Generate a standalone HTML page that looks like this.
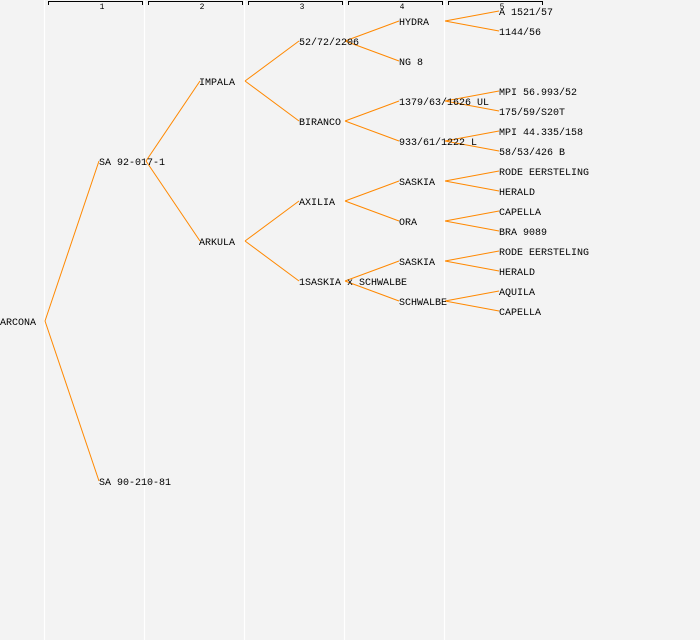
<!DOCTYPE html>
<html><head><meta charset="utf-8"><style>
html,body{margin:0;padding:0;background:#f3f3f3;}
svg{display:block;}
text{font-family:"Liberation Mono","DejaVu Sans Mono",monospace;font-size:10px;fill:#000;}
.h{font-size:8px;}
line.c{stroke:#ff8800;stroke-width:1;}
</style></head><body>
<svg width="700" height="640" xmlns="http://www.w3.org/2000/svg">
<rect width="700" height="640" fill="#f3f3f3"/>
<g stroke="#ffffff" stroke-width="1.2">
<line x1="44.5" y1="0" x2="44.5" y2="640"/><line x1="144.5" y1="0" x2="144.5" y2="640"/>
<line x1="244.5" y1="0" x2="244.5" y2="640"/><line x1="344.5" y1="0" x2="344.5" y2="640"/>
<line x1="444.5" y1="0" x2="444.5" y2="640"/>
</g>
<g stroke="#000" stroke-width="1" fill="none">
<path d="M48.5,5 V1.5 H142.5 V5"/><path d="M148.5,5 V1.5 H242.5 V5"/>
<path d="M248.5,5 V1.5 H342.5 V5"/><path d="M348.5,5 V1.5 H442.5 V5"/>
<path d="M448.5,5 V1.5 H542.5 V5"/>
</g>
<g class="h">
<text class="h" x="102" y="9" text-anchor="middle">1</text>
<text class="h" x="202" y="9" text-anchor="middle">2</text>
<text class="h" x="302" y="9" text-anchor="middle">3</text>
<text class="h" x="402" y="9" text-anchor="middle">4</text>
<text class="h" x="502" y="9" text-anchor="middle">5</text>
</g>
<g>
<line class="c" x1="45" y1="321" x2="99" y2="161"/><line class="c" x1="45" y1="321" x2="99" y2="481"/>
<line class="c" x1="146" y1="161" x2="200" y2="81"/><line class="c" x1="146" y1="161" x2="200" y2="241"/>
<line class="c" x1="245" y1="81" x2="299" y2="41"/><line class="c" x1="245" y1="81" x2="299" y2="121"/>
<line class="c" x1="245" y1="241" x2="299" y2="201"/><line class="c" x1="245" y1="241" x2="299" y2="281"/>
<line class="c" x1="345" y1="41" x2="399" y2="21"/><line class="c" x1="345" y1="41" x2="399" y2="61"/>
<line class="c" x1="345" y1="121" x2="399" y2="101"/><line class="c" x1="345" y1="121" x2="399" y2="141"/>
<line class="c" x1="345" y1="201" x2="399" y2="181"/><line class="c" x1="345" y1="201" x2="399" y2="221"/>
<line class="c" x1="345" y1="281" x2="399" y2="261"/><line class="c" x1="345" y1="281" x2="399" y2="301"/>
<line class="c" x1="445" y1="21" x2="499" y2="11"/><line class="c" x1="445" y1="21" x2="499" y2="31"/>
<line class="c" x1="445" y1="101" x2="499" y2="91"/><line class="c" x1="445" y1="101" x2="499" y2="111"/>
<line class="c" x1="445" y1="141" x2="499" y2="131"/><line class="c" x1="445" y1="141" x2="499" y2="151"/>
<line class="c" x1="445" y1="181" x2="499" y2="171"/><line class="c" x1="445" y1="181" x2="499" y2="191"/>
<line class="c" x1="445" y1="221" x2="499" y2="211"/><line class="c" x1="445" y1="221" x2="499" y2="231"/>
<line class="c" x1="445" y1="261" x2="499" y2="251"/><line class="c" x1="445" y1="261" x2="499" y2="271"/>
<line class="c" x1="445" y1="301" x2="499" y2="291"/><line class="c" x1="445" y1="301" x2="499" y2="311"/>
</g>
<text x="0" y="325">ARCONA</text>
<text x="99" y="165">SA 92-017-1</text>
<text x="99" y="485">SA 90-210-81</text>
<text x="199" y="85">IMPALA</text>
<text x="199" y="245">ARKULA</text>
<text x="299" y="45">52/72/2206</text>
<text x="299" y="125">BIRANCO</text>
<text x="299" y="205">AXILIA</text>
<text x="299" y="285">1SASKIA x SCHWALBE</text>
<text x="399" y="25">HYDRA</text>
<text x="399" y="65">NG 8</text>
<text x="399" y="105">1379/63/1626 UL</text>
<text x="399" y="145">933/61/1222 L</text>
<text x="399" y="185">SASKIA</text>
<text x="399" y="225">ORA</text>
<text x="399" y="265">SASKIA</text>
<text x="399" y="305">SCHWALBE</text>
<text x="499" y="15">A 1521/57</text>
<text x="499" y="35">1144/56</text>
<text x="499" y="95">MPI 56.993/52</text>
<text x="499" y="115">175/59/S20T</text>
<text x="499" y="135">MPI 44.335/158</text>
<text x="499" y="155">58/53/426 B</text>
<text x="499" y="175">RODE EERSTELING</text>
<text x="499" y="195">HERALD</text>
<text x="499" y="215">CAPELLA</text>
<text x="499" y="235">BRA 9089</text>
<text x="499" y="255">RODE EERSTELING</text>
<text x="499" y="275">HERALD</text>
<text x="499" y="295">AQUILA</text>
<text x="499" y="315">CAPELLA</text>
</svg>
</body></html>
